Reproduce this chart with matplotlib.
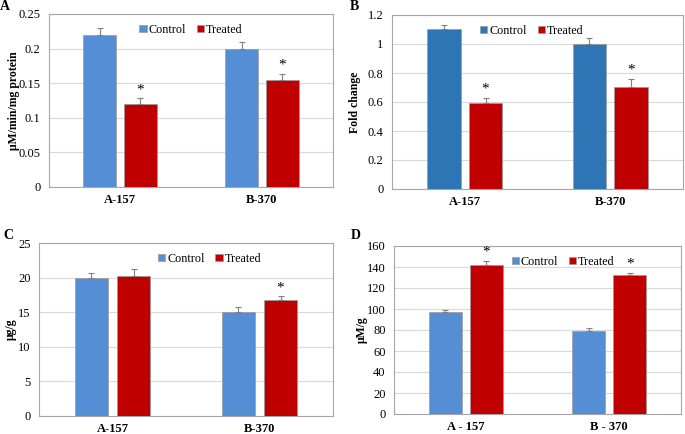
import numpy as np
import matplotlib
matplotlib.use('Agg')
import matplotlib.pyplot as plt

plt.rcParams['font.family'] = ['Liberation Serif', 'DejaVu Serif']

groups_ab = ['A-157', 'B-370']
groups_d = ['A - 157', 'B - 370']
series = ['Control', 'Treated']

# panel A: enzyme activity
a_control = [0.22, 0.20]
a_control_err = [0.010, 0.009]
a_treated = [0.12, 0.154]
a_treated_err = [0.008, 0.010]

# panel B: fold change
b_control = [1.10, 1.00]
b_control_err = [0.03, 0.04]
b_treated = [0.59, 0.70]
b_treated_err = [0.04, 0.06]

# panel C: ug/g
c_control = [19.9, 15.1]
c_control_err = [0.8, 0.7]
c_treated = [20.3, 16.7]
c_treated_err = [1.0, 0.6]

# panel D: uM/g
d_control = [97, 79]
d_control_err = [2.0, 2.5]
d_treated = [142, 132]
d_treated_err = [4.0, 2.5]

# significance marks (per group, treated bar)
a_sig = [True, True]
b_sig = [True, True]
c_sig = [False, True]
d_sig = [True, True]

W, H = 685, 434
fig = plt.figure(figsize=(W / 100, H / 100), dpi=100)


def px_axes(x0, y0, x1, y1):
    return fig.add_axes([x0 / W, (H - y1) / H, (x1 - x0) / W, (y1 - y0) / H])


def draw_panel(ax, labels, ctrl, ctrl_err, trt, trt_err, sig, ymax, ystep,
               ctrl_color, ylabel, legend_x, yfmt=None):
    x = np.arange(len(labels))
    bw = 0.23
    off = bw / 2 + 0.028
    err_kw = dict(ecolor='#808080', elinewidth=0.8, capsize=2, capthick=0.8)
    ax.bar(x - off, ctrl, bw, color=ctrl_color, edgecolor='#9a9a9a', linewidth=0.5,
           yerr=[np.zeros(len(ctrl)), ctrl_err], error_kw=err_kw, label=series[0], zorder=3)
    ax.bar(x + off, trt, bw, color='#C00000', edgecolor='#9a9a9a', linewidth=0.5,
           yerr=[np.zeros(len(trt)), trt_err], error_kw=err_kw, label=series[1], zorder=3)
    for i, s in enumerate(sig):
        if s:
            ax.annotate('*', (x[i] + off, trt[i] + trt_err[i]), xytext=(0, 1.5),
                        textcoords='offset points', ha='center', va='bottom', fontsize=11)
    ax.set_xlim(-0.5, len(labels) - 0.5)
    ax.set_ylim(0, ymax)
    ticks = np.arange(0, ymax + ystep / 2, ystep)
    ax.set_yticks(ticks)
    if yfmt:
        ax.set_yticklabels([yfmt(t) for t in ticks])
    ax.set_xticks(x)
    ax.set_xticklabels(labels, fontweight='bold', fontsize=9)
    ax.tick_params(axis='both', length=0, labelsize=9, pad=6)
    ax.tick_params(axis='x', pad=5)
    ax.grid(axis='y', color='#d9d9d9', linewidth=0.8, zorder=0)
    ax.set_axisbelow(True)
    for sp in ax.spines.values():
        sp.set_color('#a6a6a6')
        sp.set_linewidth(0.8)
    ax.set_ylabel(ylabel, fontweight='bold', fontsize=8.5)
    ax.legend(loc='upper center', bbox_to_anchor=(legend_x, 1.0), ncol=2, frameon=False,
              fontsize=8.7, handlelength=0.6, handleheight=0.6, handletextpad=0.15,
              columnspacing=0.9, borderaxespad=0.4)


def fmt_g(t):
    return ('%g' % round(t, 4))


axA = px_axes(49, 14, 333, 187)
draw_panel(axA, groups_ab, a_control, a_control_err, a_treated, a_treated_err, a_sig,
           0.25, 0.05, '#558ED5', 'μM/min/mg protein', 0.5, fmt_g)
axA.yaxis.set_label_coords(-0.102, 0.5)

axB = px_axes(392, 15, 683, 189)
draw_panel(axB, groups_ab, b_control, b_control_err, b_treated, b_treated_err, b_sig,
           1.2, 0.2, '#2E75B6', 'Fold change', 0.48, fmt_g)
axB.yaxis.set_label_coords(-0.108, 0.5)

axC = px_axes(39, 243, 333, 416)
draw_panel(axC, groups_ab, c_control, c_control_err, c_treated, c_treated_err, c_sig,
           25, 5, '#558ED5', 'μg/g', 0.58, fmt_g)
axC.yaxis.set_label_coords(-0.075, 0.5)

axD = px_axes(394, 246, 681, 414)
draw_panel(axD, groups_d, d_control, d_control_err, d_treated, d_treated_err, d_sig,
           160, 20, '#558ED5', 'μM/g', 0.59, fmt_g)
axD.yaxis.set_label_coords(-0.09, 0.5)

for lbl, px, py in [('A', 5, 6), ('B', 354, 6), ('C', 8, 235), ('D', 356, 235)]:
    fig.text(px / W, 1 - py / H, lbl, fontweight='bold', fontsize=10, va='center', ha='center')

fig.savefig('out.png', dpi=100)
